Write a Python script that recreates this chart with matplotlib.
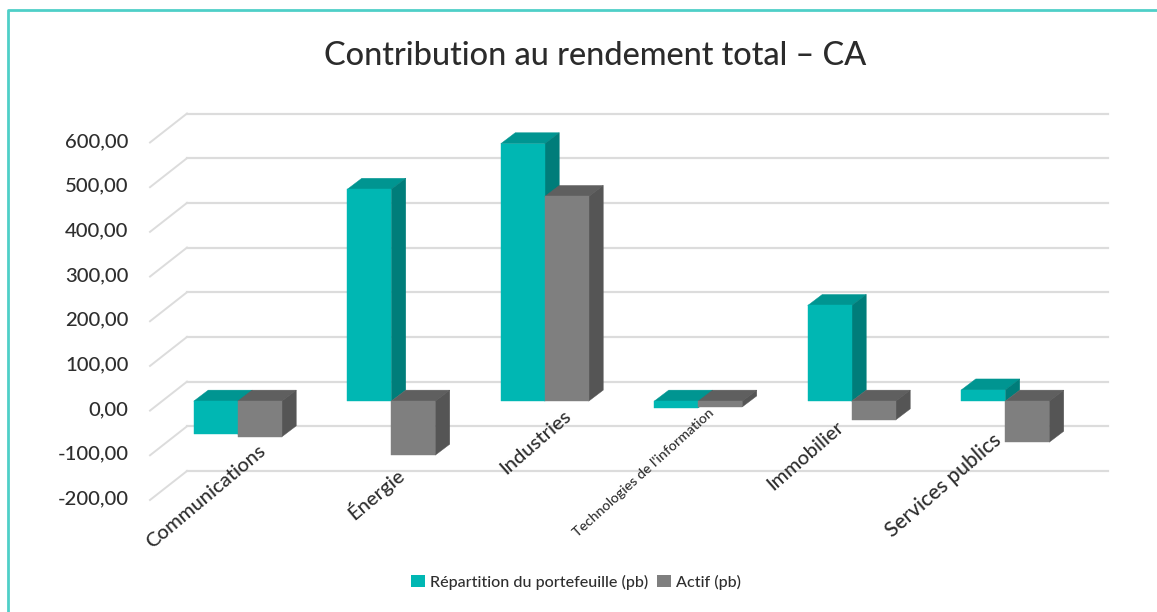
import matplotlib
matplotlib.use("Agg")
import matplotlib.pyplot as plt
from matplotlib.patches import Polygon, Patch
from matplotlib.lines import Line2D
from matplotlib.transforms import Affine2D

categories = ["Communications", "Énergie", "Industries",
              "Technologies de l'information", "Immobilier", "Services publics"]
series_names = ["Répartition du portefeuille (pb)", "Actif (pb)"]
repartition = [-74, 474, 576, -15, 214, 25]
actif = [-80, -121, 458, -13, -42, -92]
y_ticks = [600, 500, 400, 300, 200, 100, 0, -100, -200]
y_tick_labels = ["600,00", "500,00", "400,00", "300,00", "200,00", "100,00", "0,00", "-100,00", "-200,00"]
title = "Contribution au rendement total – CA"

W, H = 1157, 612
plt.rcParams["font.family"] = ["Lato", "DejaVu Sans"]
plt.rcParams["font.weight"] = "medium"
fig = plt.figure(figsize=(W / 100, H / 100), dpi=100, facecolor="white")
# axes = back wall of the pseudo-3D chart
L, R, T, B = 187, 1108, 113.5, 471
ax = fig.add_axes([L / W, 1 - B / H, (R - L) / W, (B - T) / H])
ax.set_xlim(-0.5, 5.5)
ax.set_ylim(-200, 600)
ax.patch.set_alpha(0)
for s in ax.spines.values():
    s.set_visible(False)

TXT = "#2e2e2e"
GRID = "#dcdcdc"
TEAL = ("#00b7b3", "#009591", "#007d7a")
GRAY = ("#7f7f7f", "#5f5f5f", "#555555")


def shift(dx, dy):
    # pixel offset, dy positive = upwards on screen
    return ax.transData + Affine2D().translate(dx, dy)


# gridlines: back wall and floor diagonal
for v in y_ticks:
    ax.axhline(v, color=GRID, lw=1.6, zorder=1, clip_on=False)
    p0 = ax.transData.transform((-0.5, v))
    fig.add_artist(Line2D([p0[0] - 37, p0[0]], [p0[1] - 29, p0[1]], color=GRID, lw=1.4,
                          transform=None, zorder=1))

# bars: front plane offset from back wall, then depth
FX, FY = -26, -19.5
DX, DY = 14.5, 11
WIDTH = 0.2866


def bar3d(xc, v, cols, z):
    x0, x1 = xc, xc + WIDTH
    top = max(v, 0)
    bot = min(v, 0)
    ft = shift(FX, FY)
    bk = shift(FX + DX, FY + DY)
    pts = lambda x, y, tr: tr.transform((x, y))
    A, Bb = pts(x0, top, ft), pts(x1, top, ft)
    C, Dd = pts(x1, bot, ft), pts(x0, bot, ft)
    A2, B2 = pts(x0, top, bk), pts(x1, top, bk)
    C2 = pts(x1, bot, bk)
    for poly, c in (([A, Bb, B2, A2], cols[1]), ([Bb, C, C2, B2], cols[2]), ([A, Bb, C, Dd], cols[0])):
        fig.add_artist(Polygon(poly, closed=True, facecolor=c, edgecolor=c, lw=0.3,
                               transform=None, zorder=z))


for i, (a, b) in enumerate(zip(repartition, actif)):
    bar3d(i - WIDTH, a, TEAL, 3 + i * 0.1)
    bar3d(i, b, GRAY, 3.05 + i * 0.1)

# y tick labels
ax.set_yticks(y_ticks)
ax.set_yticklabels(y_tick_labels, fontsize=14.6, color=TXT)
ax.tick_params(axis="y", length=0, pad=42)
ax.set_xticks([])
for lab in ax.get_yticklabels():
    lab.set_transform(lab.get_transform() + Affine2D().translate(0, -26.5))

# category labels (right end anchored, pixel positions)
label_ends = [(258, 442), (394, 464), (563, 407), (708, 407), (836, 418), (992, 430)]
label_sizes = [14.6, 14.6, 14.6, 10.2, 14.6, 15]
label_rot = [40, 40, 41, 42, 41, 41]
for name, (x, y), fs, rot in zip(categories, label_ends, label_sizes, label_rot):
    fig.text(x / W, 1 - y / H, name, fontsize=fs, color=TXT, rotation=rot,
             rotation_mode="anchor", ha="right", va="top")

fig.text(595 / W, 1 - 56 / H, title, fontsize=23.4, color="#2b2b2b", ha="center", va="center")

handles = [Patch(facecolor=TEAL[0], edgecolor="none"), Patch(facecolor=GRAY[0], edgecolor="none")]
fig.legend(handles, series_names, loc="center", bbox_to_anchor=(576 / W, 1 - 582 / H),
           ncol=2, frameon=False, fontsize=11.6, labelcolor=TXT, handlelength=0.82, handleheight=0.82,
           handletextpad=0.3, columnspacing=0.6, borderpad=0)

# outer teal frame
FRAME = "#4fcfc8"
fig.add_artist(Line2D([8, 8, W], [0, H - 10, H - 10], color=FRAME, lw=2, transform=None, zorder=5))

fig.savefig("out.png", dpi=100)
